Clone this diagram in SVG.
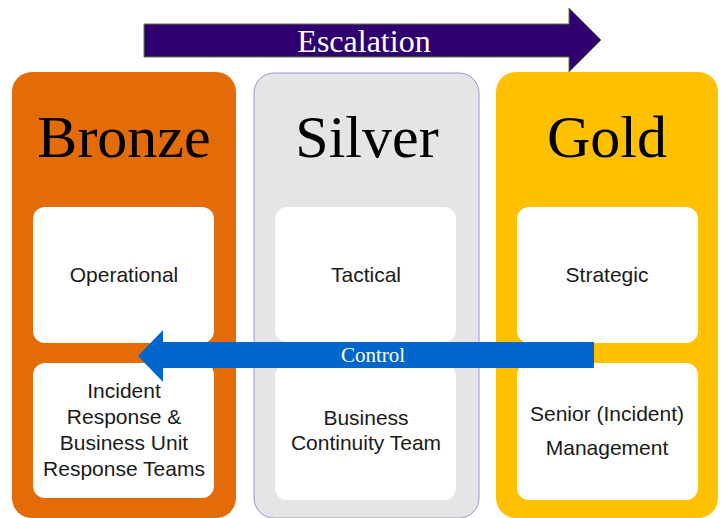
<svg xmlns="http://www.w3.org/2000/svg" width="726" height="518" viewBox="0 0 726 518">
<style>
.title{font-family:"Liberation Serif","Times New Roman",serif;font-size:60px;fill:#000;text-anchor:middle}
.body{font-family:"Liberation Sans",Arial,sans-serif;font-size:21px;fill:#1a1a1a;text-anchor:middle}
.arrowtxt{font-family:"Liberation Serif","Times New Roman",serif;fill:#fff;text-anchor:middle}
.inner{fill:#fff}
</style>
<rect width="726" height="518" fill="#fff"/>
<g id="bronze">
<rect x="12" y="72" width="224" height="446" rx="20" fill="#E36C09"/>
<text class="title" x="124" y="157">Bronze</text>
<g id="bronze-operational"><rect class="inner" x="33" y="207" width="181" height="136" rx="12"/>
<text class="body" x="124" y="282">Operational</text></g>
<g id="bronze-teams"><rect class="inner" x="33" y="363" width="181" height="135" rx="12"/>
<text class="body" x="124" y="398">Incident</text>
<text class="body" x="124" y="424">Response &amp;</text>
<text class="body" x="124" y="450">Business Unit</text>
<text class="body" x="124" y="476">Response Teams</text></g>
</g>
<g id="silver">
<rect x="254" y="73" width="225" height="445" rx="20" fill="#E5E5E5" stroke="#A98FD3" stroke-width="1"/>
<text class="title" x="367" y="157">Silver</text>
<g id="silver-tactical"><rect class="inner" x="275" y="207" width="181" height="135" rx="12"/>
<text class="body" x="366" y="282">Tactical</text></g>
<g id="silver-bct"><rect class="inner" x="275" y="364" width="181" height="136" rx="12"/>
<text class="body" x="366" y="425">Business</text>
<text class="body" x="366" y="450">Continuity Team</text></g>
</g>
<g id="gold">
<rect x="496" y="72" width="222" height="446" rx="20" fill="#FFC000"/>
<text class="title" x="607" y="157">Gold</text>
<g id="gold-strategic"><rect class="inner" x="517" y="207" width="181" height="136" rx="12"/>
<text class="body" x="607" y="282">Strategic</text></g>
<g id="gold-senior"><rect class="inner" x="517" y="363" width="181" height="137" rx="12"/>
<text class="body" x="607" y="421">Senior (Incident)</text>
<text class="body" x="607" y="455">Management</text></g>
</g>
<g id="connectors">
<g id="escalation">
<polygon points="144,24 569,24 569,8 601,40 569,72 569,57 144,57" fill="#2E0070" stroke="#5E7F3A" stroke-width="1"/>
<text class="arrowtxt" x="364" y="52" font-size="32">Escalation</text>
</g>
<g id="control">
<polygon points="594,342 163,342 163,330 138,356 163,382 163,368 594,368" fill="#0066CC"/>
<text class="arrowtxt" x="373" y="362" font-size="21">Control</text>
</g>
</g>
</svg>
